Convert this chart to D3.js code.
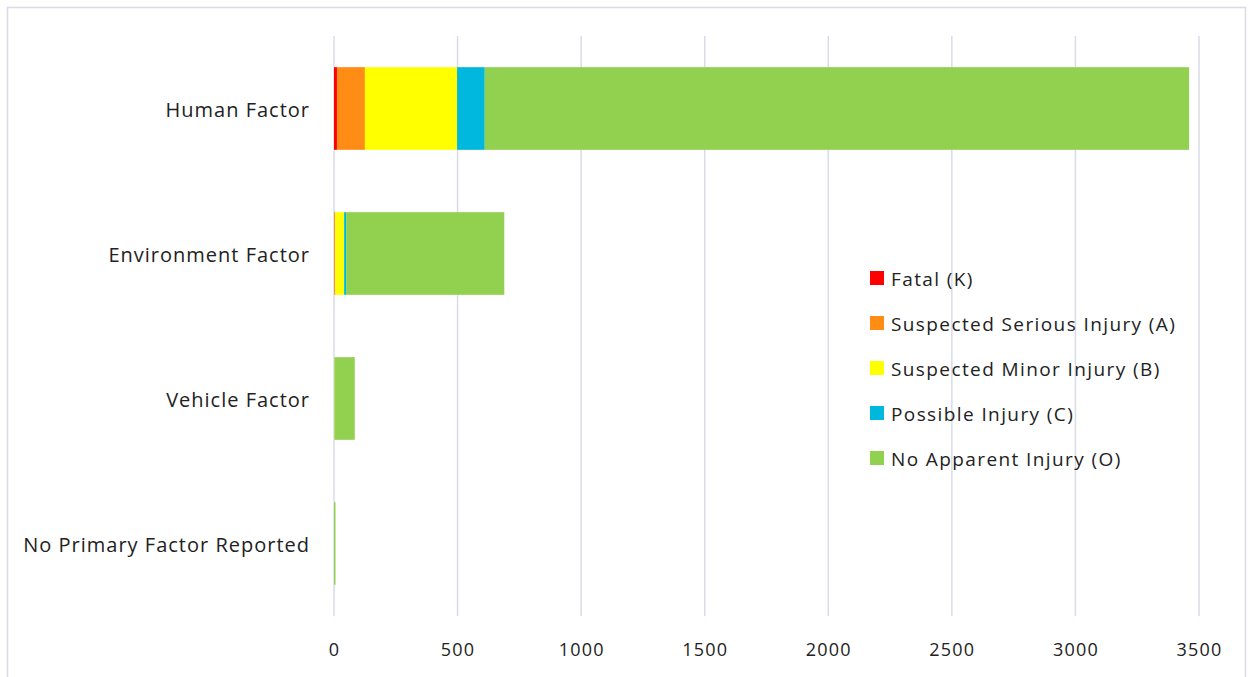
<!DOCTYPE html>
<html>
<head>
<meta charset="utf-8">
<script src="https://cdn.jsdelivr.net/npm/d3@7/dist/d3.min.js"></script>
<style>
  html, body { margin: 0; padding: 0; background: #fff; }
  svg { display: block; font-family: "Open Sans", "Noto Sans", sans-serif; }
</style>
</head>
<body>
<svg id="chart" width="1253" height="677"></svg>
<script>
// Crash counts by primary contributing factor and injury severity
const categories = ["Human Factor", "Environment Factor", "Vehicle Factor", "No Primary Factor Reported"];
const severities = ["Fatal (K)", "Suspected Serious Injury (A)", "Suspected Minor Injury (B)", "Possible Injury (C)", "No Apparent Injury (O)"];
const fatal        = [12, 1, 0, 0];
const seriousInj   = [113, 4, 1, 0];
const minorInj     = [373, 36, 2, 0];
const possibleInj  = [112, 8, 1, 0];
const noApparent   = [2850, 640, 80, 6];
const seriesValues = [fatal, seriousInj, minorInj, possibleInj, noApparent];
const colors = ["#FF0000", "#FF8C14", "#FFFF00", "#00B8DE", "#92D050"];
const xTicks = [0, 500, 1000, 1500, 2000, 2500, 3000, 3500];

const rows = categories.map((c, i) => {
  const r = { category: c };
  severities.forEach((s, j) => r[s] = seriesValues[j][i]);
  return r;
});

const svg = d3.select("#chart");
const margin = { left: 334, right: 54, top: 36, bottom: 61 };
const W = 1253, H = 677;

// chart frame
svg.append("rect")
  .attr("x", 7.5).attr("y", 7.5)
  .attr("width", 1238).attr("height", 690)
  .attr("fill", "#fff").attr("stroke", "#d9dbe9").attr("stroke-width", 1.5);

const x = d3.scaleLinear().domain([0, 3500]).range([margin.left, 1199]);
const y = d3.scaleBand().domain(categories).range([margin.top, H - margin.bottom]).paddingInner(0.43).paddingOuter(0.215);

// vertical gridlines
svg.append("g").selectAll("line").data(xTicks).join("line")
  .attr("x1", d => x(d)).attr("x2", d => x(d))
  .attr("y1", margin.top).attr("y2", H - margin.bottom)
  .attr("stroke", "#d9dbe9").attr("stroke-width", 1.5);

const stack = d3.stack().keys(severities)(rows);

svg.append("g").selectAll("g").data(stack).join("g")
  .attr("fill", (d, i) => colors[i])
  .selectAll("rect").data(d => d).join("rect")
  .attr("x", d => x(d[0]))
  .attr("width", d => Math.max(0, x(d[1]) - x(d[0])))
  .attr("y", d => y(d.data.category))
  .attr("height", y.bandwidth());

// x axis labels
const xAxis = d3.axisBottom(x).tickValues(xTicks).tickSize(0).tickPadding(0).tickFormat(d3.format("d"));
const gx = svg.append("g").attr("transform", `translate(0, ${H - margin.bottom + 27})`).call(xAxis);
gx.select(".domain").remove();
gx.selectAll("text").attr("font-size", 18).attr("letter-spacing", "1.2px")
  .attr("fill", "#222").attr("font-family", "'Open Sans', sans-serif");

// category labels
const yAxis = d3.axisLeft(y).tickSize(0).tickPadding(24);
const gy = svg.append("g").attr("transform", `translate(${margin.left}, 2.5)`).call(yAxis);
gy.select(".domain").remove();
gy.selectAll("text").attr("font-size", 20).attr("letter-spacing", "1px")
  .attr("fill", "#222").attr("font-family", "'Open Sans', sans-serif");

// legend
const legend = svg.append("g").attr("transform", "translate(870, 278)");
const item = legend.selectAll("g").data(severities).join("g")
  .attr("transform", (d, i) => `translate(0, ${i * 45})`);
item.append("rect").attr("x", 0).attr("y", -7).attr("width", 14).attr("height", 14)
  .attr("fill", (d, i) => colors[i]);
item.append("text").attr("x", 21).attr("y", 1).attr("dy", "0.35em")
  .attr("font-size", 19).attr("letter-spacing", "1.4px")
  .attr("fill", "#222").text(d => d);
</script>
</body>
</html>
